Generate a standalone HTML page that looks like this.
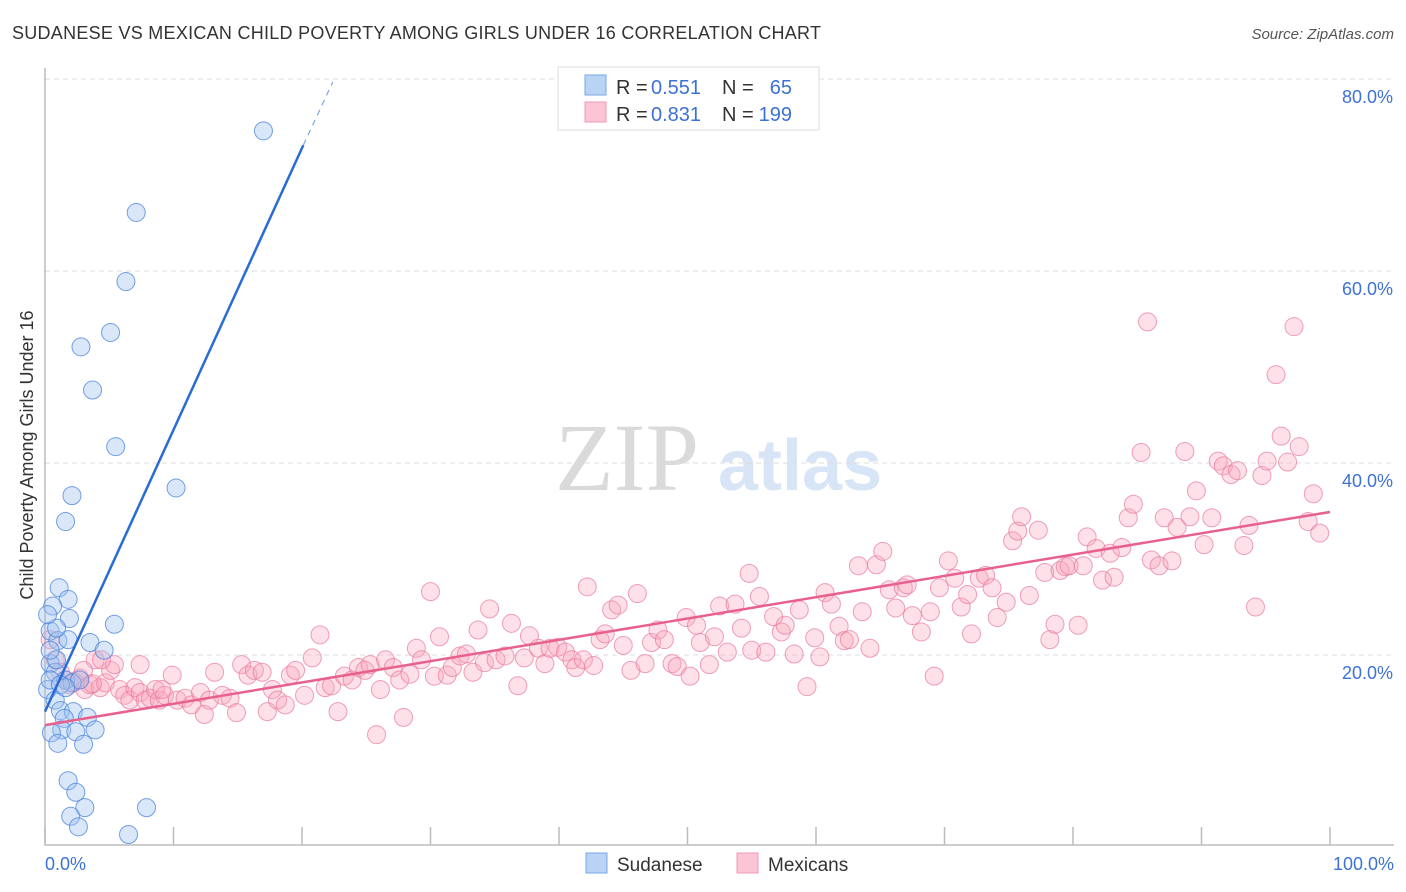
<!DOCTYPE html>
<html><head><meta charset="utf-8"><style>
body{margin:0;background:#fff;font-family:"Liberation Sans",sans-serif}
svg{display:block}
</style></head><body>
<svg id="chart" width="1406" height="892" viewBox="0 0 1406 892" xmlns="http://www.w3.org/2000/svg">
<text x="12" y="39" font-size="18" fill="#333" textLength="809" lengthAdjust="spacing">SUDANESE VS MEXICAN CHILD POVERTY AMONG GIRLS UNDER 16 CORRELATION CHART</text>
<text x="1394" y="39" font-size="15" fill="#555" font-style="italic" text-anchor="end">Source: ZipAtlas.com</text>
<g>
<text x="555" y="490" font-size="96" fill="#dadada" font-family="Liberation Serif,serif">ZIP</text>
<text x="718" y="490" font-size="72" fill="#d8e5f6" font-weight="bold">atlas</text>
</g>
<g id="grid"></g>
<g id="axes"></g>
<g id="pts"></g>
<g id="lines"></g>
<text transform="translate(33,455) rotate(-90)" font-size="18" fill="#333" text-anchor="middle">Child Poverty Among Girls Under 16</text>
<g>
<rect x="558" y="67" width="261" height="63" fill="#fff" stroke="#ddd"/>
<rect x="585" y="75" width="21" height="20" fill="#b9d3f5" stroke="#7aa6e6"/>
<rect x="585" y="102" width="21" height="20" fill="#fcc5d5" stroke="#f19ab5"/>
<text x="616" y="94" font-size="20" fill="#333">R =</text>
<text x="651" y="94" font-size="20" fill="#3c72d6">0.551</text>
<text x="722" y="94" font-size="20" fill="#333">N =</text>
<text x="792" y="94" font-size="20" fill="#3c72d6" text-anchor="end">65</text>
<text x="616" y="121" font-size="20" fill="#333">R =</text>
<text x="651" y="121" font-size="20" fill="#3c72d6">0.831</text>
<text x="722" y="121" font-size="20" fill="#333">N =</text>
<text x="792" y="121" font-size="20" fill="#3c72d6" text-anchor="end">199</text>
</g>
<g>
<rect x="586" y="853" width="21" height="20" fill="#b9d3f5" stroke="#7aa6e6"/>
<text x="617" y="871" font-size="19" fill="#333">Sudanese</text>
<rect x="737" y="853" width="21" height="20" fill="#fcc5d5" stroke="#f19ab5"/>
<text x="768" y="871" font-size="19" fill="#333">Mexicans</text>
</g>
</svg>
<script>
const yTicks=[20,40,60,80];
const yTickLabels=["20.0%","40.0%","60.0%","80.0%"];
const xTicks=[0,10,20,30,40,50,60,70,80,90,100];
const sudX=[17.0,7.1,6.3,2.8,5.1,3.7,5.5,10.2,2.1,1.6,1.1,1.8,0.6,1.9,5.4,3.5,4.6,0.4,1.0,1.8,0.9,0.4,0.8,1.6,2.1,2.7,0.2,0.8,1.2,2.2,3.3,1.5,1.3,2.4,3.9,0.5,1.0,3.0,1.8,2.4,3.1,2.0,2.6,6.5,7.9,0.4,1.2,1.6,0.9,0.4,0.2];
const sudY=[74.6,66.1,58.9,52.1,53.6,47.6,41.7,37.4,36.6,33.9,27.0,25.8,25.1,23.8,23.2,21.3,20.5,22.5,21.5,21.6,22.8,19.1,18.2,17.4,17.1,17.4,16.4,15.3,14.2,14.1,13.5,13.4,12.2,12.0,12.2,11.9,10.8,10.7,6.9,5.7,4.1,3.2,2.1,1.3,4.1,17.4,16.9,16.6,19.5,20.5,24.2];
const mexX=[0.4,0.8,1.2,1.6,1.9,2.3,2.7,3.1,3.5,3.9,4.3,4.7,5.1,5.4,5.8,6.2,6.6,7.0,7.4,7.8,8.2,8.6,8.9,9.3,9.9,10.3,10.9,11.4,12.1,12.4,12.8,13.2,13.8,14.4,14.9,15.3,15.8,16.3,16.9,17.3,17.7,18.1,18.7,19.1,19.5,20.2,20.8,21.4,21.8,22.3,22.8,23.3,23.9,24.4,24.9,25.3,25.8,26.1,26.5,27.1,27.6,27.9,28.4,28.9,29.3,30.0,30.3,30.7,31.3,31.7,32.3,32.8,33.3,33.7,34.2,34.6,35.1,35.8,36.3,36.8,37.3,37.7,38.4,38.9,39.3,39.9,40.5,41.0,41.3,41.9,42.2,42.7,43.2,43.6,44.1,44.6,45.0,45.6,46.1,46.7,47.2,47.7,48.2,48.8,49.2,49.9,50.2,50.7,51.0,51.7,52.1,52.5,53.1,53.7,54.2,54.8,55.0,55.6,56.1,56.7,57.3,57.6,58.3,58.7,59.3,59.9,60.3,60.7,61.2,61.8,62.2,62.6,63.3,63.6,64.2,64.7,65.2,65.7,66.2,66.8,67.1,67.5,68.2,68.9,69.2,69.6,70.3,70.8,71.3,71.8,72.1,72.7,73.2,73.7,74.1,74.8,75.3,75.7,76.0,76.6,77.3,77.8,78.2,78.6,79.0,79.4,79.7,80.4,80.8,81.1,81.8,82.3,82.9,83.2,83.8,84.3,84.7,85.3,85.8,86.1,86.7,87.1,87.7,88.1,88.7,89.1,89.6,90.2,90.8,91.3,91.7,92.3,92.8,93.3,93.7,94.2,94.7,95.1,95.8,96.2,96.7,97.2,97.6,98.3,98.7,99.2,4.4,7.4,9.1,3.0,3.7];
const mexY=[21.6,19.5,18.2,17.4,16.9,17.2,17.6,16.4,16.9,19.5,16.6,17.1,18.4,19.0,16.4,15.8,15.3,16.6,16.1,15.3,15.5,16.4,15.3,15.8,17.9,15.3,15.5,14.8,16.1,13.8,15.3,18.2,15.8,15.5,14.0,19.0,17.9,18.4,18.2,14.1,16.4,15.3,14.8,17.9,18.4,15.8,19.7,22.1,16.6,16.8,14.1,17.8,17.4,18.7,18.4,19.0,11.7,16.4,19.5,18.7,17.4,13.5,18.0,20.7,19.5,26.6,17.8,21.9,17.9,18.7,19.9,20.1,18.2,22.6,19.2,24.8,19.5,19.9,23.3,16.8,19.7,22.0,20.7,19.1,20.7,20.8,20.3,19.5,18.7,19.5,27.1,18.9,21.6,22.2,24.7,25.2,21.0,18.4,26.4,19.1,21.3,22.6,21.6,19.1,18.8,23.9,17.8,23.1,21.3,19.0,21.9,25.1,20.3,25.3,22.8,28.5,20.5,26.1,20.3,24.0,22.4,23.1,20.1,24.7,16.7,21.8,19.8,26.5,25.3,23.0,21.5,21.6,29.3,24.5,20.7,29.4,30.8,26.8,24.9,27.0,27.3,24.1,22.4,24.5,17.8,27.0,29.8,28.0,25.0,26.3,22.2,28.0,28.3,27.0,23.9,25.5,31.9,32.9,34.4,26.2,33.0,28.6,21.6,23.2,28.8,29.2,29.3,23.1,29.3,32.3,31.1,27.8,30.6,28.1,31.2,34.3,35.7,41.1,54.7,29.9,29.3,34.3,29.8,33.3,41.2,34.4,37.1,31.5,34.3,40.2,39.7,38.8,39.2,31.4,33.5,25.0,38.7,40.2,49.2,42.8,40.1,54.2,41.7,33.9,36.8,32.7,19.5,19.0,16.4,18.4,17.0];
const sudLine=[0,14.1,20.1,73.1,22.4,79.7];
const mexLine=[0,12.7,100,34.9];
const NS="http://www.w3.org/2000/svg";
const X=v=>45+v*12.85, Y=v=>847-v*9.6;
function mk(t,a,p){const e=document.createElementNS(NS,t);for(const k in a)e.setAttribute(k,a[k]);p.appendChild(e);return e;}
const grid=document.getElementById('grid'),axes=document.getElementById('axes'),pts=document.getElementById('pts'),lines=document.getElementById('lines');
yTicks.forEach((t,i)=>{
 const l=mk('line',{x1:45,x2:1394,y1:Y(t),y2:Y(t),stroke:'#ddd','stroke-dasharray':'5,4'},grid);
 
 
 const tx=mk('text',{x:1393,y:Y(t)+24,'font-size':18,fill:'#3c72d6','text-anchor':'end'},axes);
 tx.textContent=yTickLabels[i];
 
 
});
const ax=mk('path',{d:`M45 68 V845 H1394`,fill:'none',stroke:'#bbb','stroke-width':1.5},axes);


xTicks.forEach(t=>{const l=mk('line',{x1:X(t),x2:X(t),y1:845,y2:827,stroke:'#bbb','stroke-width':1.5},axes);
 
 });
const x0=mk('text',{x:45,y:870,'font-size':18,fill:'#3c72d6'},axes);x0.textContent='0.0%';


const x1=mk('text',{x:1394,y:870,'font-size':18,fill:'#3c72d6','text-anchor':'end'},axes);x1.textContent='100.0%';


mexX.forEach((v,i)=>{const c=mk('circle',{cx:X(v),cy:Y(mexY[i]),r:9,fill:'rgba(248,165,190,0.35)',stroke:'rgba(232,120,158,0.7)','stroke-width':1},pts);
 
 });
sudX.forEach((v,i)=>{const c=mk('circle',{cx:X(v),cy:Y(sudY[i]),r:9,fill:'rgba(160,195,240,0.4)',stroke:'rgba(70,130,220,0.75)','stroke-width':1},pts);
 
 });
const sl=mk('line',{x1:X(sudLine[0]),y1:Y(sudLine[1]),x2:X(sudLine[2]),y2:Y(sudLine[3]),stroke:'#2a6bd6','stroke-width':2.5},lines);


const sd=mk('line',{x1:X(sudLine[2]),y1:Y(sudLine[3]),x2:X(sudLine[4]),y2:Y(sudLine[5]),stroke:'#7aa6e6','stroke-width':1.2,'stroke-dasharray':'6,5'},lines);


const ml=mk('line',{x1:X(mexLine[0]),y1:Y(mexLine[1]),x2:X(mexLine[2]),y2:Y(mexLine[3]),stroke:'#e8608e','stroke-width':2.5},lines);


</script>
</body></html>
